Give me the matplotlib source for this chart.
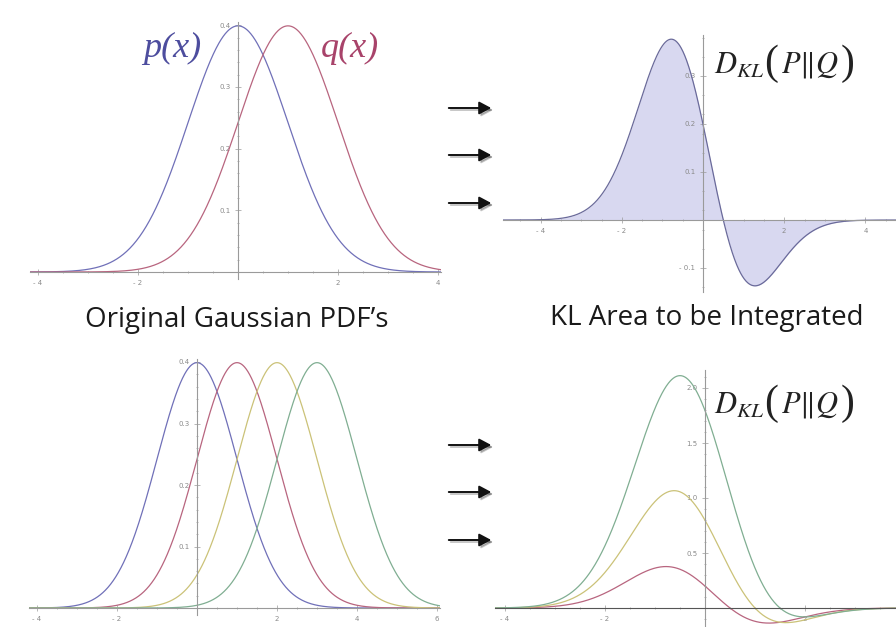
import numpy as np
import matplotlib
matplotlib.use("Agg")
import matplotlib.pyplot as plt
from matplotlib.ticker import AutoMinorLocator, FixedLocator

# ===== data (unit-variance Gaussians)
p_mean = 0.0
q_means = [1.0, 2.0, 3.0]
sigma = 1.0
pdf_colors = ["#7070b8", "#b8657f", "#cbc278", "#80ae92"]
kl_colors = ["#b8657f", "#cbc278", "#80ae92"]

top_xticks = [-4, -2, 2, 4]
top_yticks = [0.1, 0.2, 0.3, 0.4]
kl1_yticks = [-0.1, 0.1, 0.2, 0.3]
bl_xticks = [-4, -2, 2, 4, 6]
br_xticks = [-4, -2, 2]
br_yticks = [0.5, 1.0, 1.5, 2.0]

W, H = 896, 627
plt.rcParams["mathtext.fontset"] = "stix"
fig = plt.figure(figsize=(W / 100, H / 100), dpi=100)

AX_COL = "#9a9a9a"
TICK_COL = "#8a8a8a"


def gauss(x, mu):
    return np.exp(-0.5 * ((x - mu) / sigma) ** 2) / (sigma * np.sqrt(2 * np.pi))


def make_axes(x0, xs, y0, ys, xlim, ylim):
    # x0/y0: pixel position of data origin, xs/ys: pixels per unit
    left = x0 + xlim[0] * xs
    right = x0 + xlim[1] * xs
    top = y0 - ylim[1] * ys
    bottom = y0 - ylim[0] * ys
    ax = fig.add_axes([left / W, 1 - bottom / H, (right - left) / W, (bottom - top) / H])
    ax.set_xlim(xlim)
    ax.set_ylim(ylim)
    ax.patch.set_alpha(0)
    for s in ["top", "right"]:
        ax.spines[s].set_visible(False)
    for s in ["left", "bottom"]:
        ax.spines[s].set_position(("data", 0))
        ax.spines[s].set_color(AX_COL)
        ax.spines[s].set_linewidth(0.8)
    ax.tick_params(which="both", colors=AX_COL, labelcolor=TICK_COL, labelsize=5,
                   direction="inout", width=0.5)
    ax.tick_params(which="major", length=4)
    ax.tick_params(which="minor", length=2)
    return ax


def set_ticks(ax, xt, yt, fmt="{:.1f}"):
    ax.xaxis.set_major_locator(FixedLocator(xt))
    ax.yaxis.set_major_locator(FixedLocator(yt))
    ax.set_xticklabels([str(v).replace("-", "- ") for v in xt])
    ax.set_yticklabels([fmt.format(v).replace("-", "- ") for v in yt])
    ax.xaxis.set_minor_locator(AutoMinorLocator(4))
    ax.yaxis.set_minor_locator(AutoMinorLocator(5))


def dkl_label(px, py):
    # D_KL followed by tall parentheses around P||Q
    kw = dict(color="#222222", va="center")
    fig.text(px / W, 1 - py / H, r"$D_{KL}$", fontsize=22, ha="left", **kw)
    fig.text((px + 57) / W, 1 - (py - 1) / H, "(", fontsize=30,
             family="Liberation Serif", ha="center", **kw)
    fig.text((px + 96) / W, 1 - py / H, r"$P\|Q$", fontsize=22, ha="center", **kw)
    fig.text((px + 134) / W, 1 - (py - 1) / H, ")", fontsize=30,
             family="Liberation Serif", ha="center", **kw)


x = np.linspace(-6, 7, 1200)
p = gauss(x, p_mean)

# ----- top left: p and q
ax1 = make_axes(238, 50, 272, 617, (-4.15, 4.05), (-0.012, 0.405))
ax1.plot(x, p, color=pdf_colors[0], lw=0.9)
ax1.plot(x, gauss(x, q_means[0]), color=pdf_colors[1], lw=0.9)
set_ticks(ax1, top_xticks, top_yticks)

# ----- top right: KL integrand for q mean 1
ax2 = make_axes(703, 40.6, 220, 480, (-4.93, 4.8), (-0.15, 0.385))
kl1 = p * np.log(p / gauss(x, q_means[0]))
ax2.fill_between(x, kl1, 0, color="#d8d8f0", lw=0)
ax2.plot(x, kl1, color="#6a6a9a", lw=0.9)
set_ticks(ax2, top_xticks, kl1_yticks)

# ----- bottom left: shifted Gaussians
ax3 = make_axes(197, 40, 608, 615, (-4.2, 6.07), (-0.012, 0.405))
ax3.plot(x, p, color=pdf_colors[0], lw=0.9)
for mu, c in zip(q_means, pdf_colors[1:]):
    ax3.plot(x, gauss(x, mu), color=c, lw=0.9)
set_ticks(ax3, bl_xticks, top_yticks)

# ----- bottom right: KL integrands
ax4 = make_axes(705, 50, 608, 110, (-4.2, 3.82), (-0.17, 2.16))
for mu, c in zip(q_means, kl_colors):
    ax4.plot(x, p * np.log(p / gauss(x, mu)), color=c, lw=0.9)
set_ticks(ax4, br_xticks, br_yticks)
ax4.spines["bottom"].set_color("#555555")

# ----- labels
fig.text(172 / W, 1 - 48 / H, "p(x)", color="#4d4d9e", fontsize=26, style="italic",
         family="Liberation Serif", ha="center", va="center")
fig.text(350 / W, 1 - 48 / H, "q(x)", color="#a8436a", fontsize=26, style="italic",
         family="Liberation Serif", ha="center", va="center")
dkl_label(714, 65)
dkl_label(714, 405)

fig.text(237 / W, 1 - 320 / H, "Original Gaussian PDF\u2019s", fontsize=20,
         family="Open Sans", color="#1a1a1a", ha="center", va="center")
fig.text(707 / W, 1 - 318 / H, "KL Area to be Integrated", fontsize=20,
         family="Open Sans", color="#1a1a1a", ha="center", va="center")

# ----- arrows (with a soft shadow)
for yy in [108, 155, 203, 445, 492, 540]:
    for off, col, a in [(2.0, "#000000", 0.22), (0, "#111111", 1.0)]:
        fig.patches.append(matplotlib.patches.FancyArrowPatch(
            ((446 + off) / W, 1 - (yy + off) / H), ((494 + off) / W, 1 - (yy + off) / H),
            transform=fig.transFigure, arrowstyle="-|>,head_length=4.5,head_width=2.4",
            color=col, alpha=a, lw=1.4, mutation_scale=1.6))

fig.savefig("out.png", dpi=100)
